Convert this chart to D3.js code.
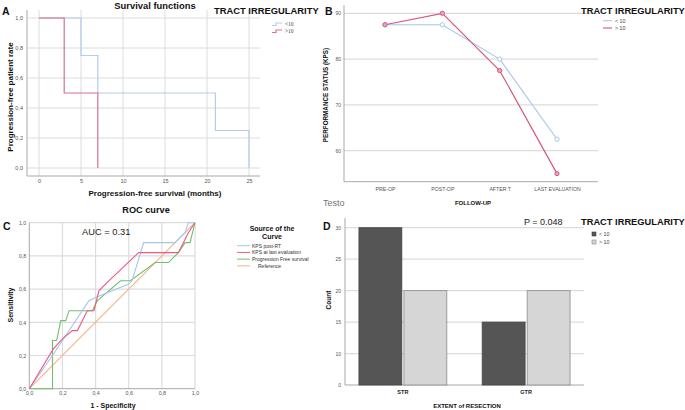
<!DOCTYPE html>
<html><head><meta charset="utf-8">
<script src="https://cdn.jsdelivr.net/npm/d3@7"></script>
<style>
body{margin:0;background:#fff}
svg{display:block;font-family:"Liberation Sans",Arial,sans-serif}
</style>
</head><body>
<svg id="c" width="685" height="410"></svg>
<script>
// ---------- Panel A: Kaplan-Meier ----------
const survMonthsLow = [0, 5, 7, 21, 25];
const survRateLow   = [1.0, 0.75, 0.5, 0.25, 0.0];
const survMonthsHigh = [0, 3, 7];
const survRateHigh   = [1.0, 0.5, 0.0];
const survXTicks = [0, 5, 10, 15, 20, 25];
const survYTicks = [0, 0.2, 0.4, 0.6, 0.8, 1.0];
const groupLabels = ["<10", ">10"];

// ---------- Panel B: KPS follow-up ----------
const kpsCategories = ["PRE-OP", "POST-OP", "AFTER T", "LAST EVALUATION"];
const kpsLow  = [87.5, 87.5, 80, 62.5];
const kpsHigh = [87.5, 90, 77.5, 55];
const kpsYTicks = [60, 70, 80, 90];
const kpsLegend = ["< 10", "> 10"];

// ---------- Panel C: ROC ----------
const rocKpsPostX = [0, 0.14, 0.36, 0.40, 0.50, 0.60, 0.62, 0.69, 0.88, 0.94, 0.96, 1.0];
const rocKpsPostY = [0, 0.20, 0.53, 0.55, 0.59, 0.63, 0.65, 0.88, 0.88, 0.94, 1.0, 1.0];
const rocKpsLastX = [0, 0.145, 0.20, 0.26, 0.29, 0.35, 0.39, 0.42, 0.48, 0.66, 0.90, 0.96, 1.0];
const rocKpsLastY = [0, 0.24, 0.30, 0.35, 0.35, 0.47, 0.47, 0.59, 0.65, 0.82, 0.82, 0.94, 1.0];
const rocPfsX = [0, 0.14, 0.14, 0.165, 0.19, 0.22, 0.24, 0.38, 0.41, 0.55, 0.61, 0.76, 0.84, 0.90, 0.94, 0.97, 1.0];
const rocPfsY = [0, 0, 0.29, 0.29, 0.41, 0.41, 0.47, 0.47, 0.53, 0.65, 0.65, 0.76, 0.76, 0.82, 0.88, 0.88, 1.0];
const rocRefX = [0, 1];
const rocRefY = [0, 1];
const rocTicks = [0, 0.2, 0.4, 0.6, 0.8, 1.0];
const rocLegend = ["KPS post-RT", "KPS at last evaluation", "Progression Free survival", "Reference"];

// ---------- Panel D: bars ----------
const resectionCats = ["STR", "GTR"];
const countLow  = [30, 15];
const countHigh = [20, 20];
const countTicks = [5, 10, 15, 20, 25, 30];
const countTickLabels = ["0", "10", "15", "20", "25", "30"];

const svg = d3.select("#c");
const comma = d => d3.format(".1f")(d).replace(".", ",");
const GRID = "#dcdcdc", AXIS = "#a8a8a8", TICK = "#555";

function styleAxis(g, size) {
  g.select(".domain").remove();
  g.selectAll(".tick line").remove();
  g.selectAll("text").attr("font-size", size).attr("fill", TICK)
    .attr("font-family", '"Liberation Sans",Arial,sans-serif');
}
function txt(x, y, s, opt = {}) {
  const t = svg.append("text").attr("x", x).attr("y", y).text(s)
    .attr("font-size", opt.size || 9).attr("font-weight", opt.bold ? "bold" : "normal")
    .attr("fill", opt.fill || "#111").attr("text-anchor", opt.anchor || "start");
  if (opt.rotate) t.attr("transform", `rotate(-90,${x},${y})`);
  if (opt.family) t.attr("font-family", opt.family);
  return t;
}

// ================= Panel A =================
{
  const L = 27, R = 260, T = 10, B = 176;
  const x = d3.scaleLinear().domain([0, 25]).range([39, 249]);
  const y = d3.scaleLinear().domain([0, 1]).range([168, 18]);
  const g = svg.append("g");
  g.selectAll(".vg").data(survXTicks).join("line")
    .attr("x1", d => x(d)).attr("x2", d => x(d)).attr("y1", T).attr("y2", B)
    .attr("stroke", GRID).attr("stroke-width", 1);
  g.selectAll(".hg").data(survYTicks).join("line")
    .attr("x1", L).attr("x2", R).attr("y1", d => y(d)).attr("y2", d => y(d))
    .attr("stroke", GRID).attr("stroke-width", 1);
  g.append("line").attr("x1", L).attr("x2", L).attr("y1", T).attr("y2", B).attr("stroke", AXIS);
  g.append("line").attr("x1", L).attr("x2", R).attr("y1", B).attr("y2", B).attr("stroke", AXIS);

  const ax = g.append("g").attr("transform", `translate(0,${B})`)
    .call(d3.axisBottom(x).tickValues(survXTicks).tickSize(0).tickPadding(3));
  styleAxis(ax, 5.5);
  const ay = g.append("g").attr("transform", `translate(${L},0)`)
    .call(d3.axisLeft(y).tickValues(survYTicks).tickFormat(comma).tickSize(0).tickPadding(4));
  styleAxis(ay, 5.5);

  const line = d3.line().x(d => x(d[0])).y(d => y(d[1])).curve(d3.curveStepAfter);
  const low = survMonthsLow.map((m, i) => [m, survRateLow[i]]);
  const high = survMonthsHigh.map((m, i) => [m, survRateHigh[i]]);
  const lc = ["#b3cdee", "#d5708c"];
  g.append("path").attr("d", line(low)).attr("fill", "none").attr("stroke", lc[0]).attr("stroke-width", 1.2);
  g.append("path").attr("d", line(high)).attr("fill", "none").attr("stroke", lc[1]).attr("stroke-width", 1.2);

  // legend
  groupLabels.forEach((s, i) => {
    const yy = 24 + i * 7;
    g.append("path").attr("d", `M272,${yy + 1.5}H276V${yy - 1}H282`).attr("fill", "none").attr("stroke", lc[i]).attr("stroke-width", 1.1);
    txt(285, yy + 2, s, { size: 5.5, fill: "#444", family: '"Liberation Serif",serif' });
  });

  txt(155, 9, "Survival functions", { size: 9.4, bold: true, anchor: "middle" });
  txt(214, 14, "TRACT IRREGULARITY", { size: 9.4, bold: true });
  txt(2, 15, "A", { size: 10.5, bold: true });
  txt(155, 196, "Progression-free survival (months)", { size: 8, bold: true, anchor: "middle" });
  txt(13, 97, "Progression-free patient rate", { size: 8, bold: true, anchor: "middle", rotate: true });
}

// ================= Panel B =================
{
  const L = 344, R = 598, T = 5, B = 181.7;
  const x = d3.scalePoint().domain(kpsCategories).range([385, 557]);
  const y = d3.scaleLinear().domain([60, 90]).range([150.7, 13.3]);
  const g = svg.append("g");
  g.selectAll(".hg").data(kpsYTicks).join("line")
    .attr("x1", L).attr("x2", R).attr("y1", d => y(d)).attr("y2", d => y(d))
    .attr("stroke", GRID).attr("stroke-width", 1.3);
  g.append("line").attr("x1", L).attr("x2", L).attr("y1", T).attr("y2", B).attr("stroke", AXIS);
  g.append("line").attr("x1", L).attr("x2", R).attr("y1", B).attr("y2", B).attr("stroke", AXIS);
  const ax = g.append("g").attr("transform", `translate(0,${B})`)
    .call(d3.axisBottom(x).tickSize(0).tickPadding(6));
  styleAxis(ax, 5.2);
  const ay = g.append("g").attr("transform", `translate(${L},0)`)
    .call(d3.axisLeft(y).tickValues(kpsYTicks).tickSize(0).tickPadding(3));
  styleAxis(ay, 5);

  const line = d3.line().x(d => x(d[0])).y(d => y(d[1]));
  const series = [
    { v: kpsLow, c: "#a9c7ee", f: "#ffffff" },
    { v: kpsHigh, c: "#d4587a", f: "#eaa6ba" }
  ];
  series.forEach(s => {
    const pts = kpsCategories.map((k, i) => [k, s.v[i]]);
    g.append("path").attr("d", line(pts)).attr("fill", "none").attr("stroke", s.c).attr("stroke-width", 1.2);
    g.selectAll(null).data(pts).join("circle")
      .attr("cx", d => x(d[0])).attr("cy", d => y(d[1])).attr("r", 2.1)
      .attr("fill", s.f).attr("stroke", s.c).attr("stroke-width", 1);
  });

  txt(581, 14, "TRACT IRREGULARITY", { size: 9.3, bold: true });
  kpsLegend.forEach((s, i) => {
    const yy = 20.7 + i * 7.3;
    g.append("line").attr("x1", 603).attr("x2", 612).attr("y1", yy).attr("y2", yy).attr("stroke", series[i].c).attr("stroke-width", 1.1);
    txt(615, yy + 2, s, { size: 5.3, fill: "#444" });
  });
  txt(325, 15, "B", { size: 10.5, bold: true });
  txt(328, 95, "PERFORMANCE STATUS (KPS)", { size: 6.3, bold: true, anchor: "middle", rotate: true });
  txt(473, 205, "FOLLOW-UP", { size: 6, bold: true, anchor: "middle" });
}

// ================= Panel C =================
{
  const x = d3.scaleLinear().domain([0, 1]).range([29.3, 195]);
  const y = d3.scaleLinear().domain([0, 1]).range([388.7, 222.7]);
  const g = svg.append("g");
  g.selectAll(".vg").data(rocTicks.slice(1)).join("line")
    .attr("x1", d => x(d)).attr("x2", d => x(d)).attr("y1", y(1)).attr("y2", y(0))
    .attr("stroke", GRID).attr("stroke-width", 1.2);
  g.selectAll(".hg").data(rocTicks.slice(1)).join("line")
    .attr("x1", x(0)).attr("x2", x(1)).attr("y1", d => y(d)).attr("y2", d => y(d))
    .attr("stroke", GRID).attr("stroke-width", 1.2);
  g.append("line").attr("x1", x(0)).attr("x2", x(0)).attr("y1", y(1)).attr("y2", y(0)).attr("stroke", AXIS);
  g.append("line").attr("x1", x(0)).attr("x2", x(1)).attr("y1", y(0)).attr("y2", y(0)).attr("stroke", AXIS);
  const ax = g.append("g").attr("transform", `translate(0,${y(0)})`)
    .call(d3.axisBottom(x).tickValues(rocTicks).tickFormat(comma).tickSize(0).tickPadding(3));
  styleAxis(ax, 5.3);
  const ay = g.append("g").attr("transform", `translate(${x(0)},0)`)
    .call(d3.axisLeft(y).tickValues(rocTicks).tickFormat(comma).tickSize(0).tickPadding(3));
  styleAxis(ay, 5.3);

  const line = d3.line().x(d => x(d[0])).y(d => y(d[1]));
  const curves = [
    { xs: rocRefX, ys: rocRefY, c: "#f6b486" },
    { xs: rocPfsX, ys: rocPfsY, c: "#6fc06f" },
    { xs: rocKpsPostX, ys: rocKpsPostY, c: "#a3c6f0" },
    { xs: rocKpsLastX, ys: rocKpsLastY, c: "#ee5a84" }
  ];
  curves.forEach(cv => {
    const pts = cv.xs.map((v, i) => [v, cv.ys[i]]);
    g.append("path").attr("d", line(pts)).attr("fill", "none").attr("stroke", cv.c).attr("stroke-width", 1.1);
  });

  txt(146, 213, "ROC curve", { size: 9.2, bold: true, anchor: "middle" });
  txt(82, 235, "AUC = 0.31", { size: 9.3, fill: "#222" });
  txt(3, 230, "C", { size: 10.5, bold: true });
  txt(113, 408, "1 - Specificity", { size: 7, bold: true, anchor: "middle" });
  txt(13, 305, "Sensitivity", { size: 7, bold: true, anchor: "middle", rotate: true });

  txt(272, 231, "Source of the", { size: 7, bold: true, anchor: "middle" });
  txt(272, 238.5, "Curve", { size: 7, bold: true, anchor: "middle" });
  const lcol = ["#a3c6f0", "#ee5a84", "#6fc06f", "#f6b486"];
  rocLegend.forEach((s, i) => {
    const yy = 245.7 + i * 6.7;
    g.append("line").attr("x1", 237).attr("x2", 250).attr("y1", yy).attr("y2", yy).attr("stroke", lcol[i]).attr("stroke-width", 1);
    txt(i === 3 ? 258 : 252, yy + 1.8, s, { size: 5, fill: "#333" });
  });
}

// ================= Panel D =================
{
  const L = 345, R = 584, T = 218, B = 385;
  const x = d3.scaleBand().domain(resectionCats).range([L, R]).paddingInner(0.287).paddingOuter(0.113);
  const xs = d3.scaleBand().domain(["low", "high"]).range([0, x.bandwidth()]).paddingInner(0.046);
  const y = d3.scaleLinear().domain([5, 30]).range([B, 227.7]);
  const g = svg.append("g");
  g.selectAll(".hg").data(countTicks.slice(1)).join("line")
    .attr("x1", L).attr("x2", R).attr("y1", d => y(d)).attr("y2", d => y(d))
    .attr("stroke", GRID).attr("stroke-width", 1.2);
  g.append("line").attr("x1", L).attr("x2", L).attr("y1", T).attr("y2", B).attr("stroke", AXIS);
  g.append("line").attr("x1", L).attr("x2", R).attr("y1", B).attr("y2", B).attr("stroke", AXIS);

  const bars = [];
  resectionCats.forEach((c, i) => {
    bars.push({ c, k: "low", v: countLow[i] });
    bars.push({ c, k: "high", v: countHigh[i] });
  });
  g.selectAll(".bar").data(bars).join("rect")
    .attr("x", d => x(d.c) + xs(d.k)).attr("width", xs.bandwidth())
    .attr("y", d => y(d.v)).attr("height", d => y(5) - y(d.v))
    .attr("fill", d => d.k === "low" ? "#555555" : "#d6d6d6")
    .attr("stroke", d => d.k === "low" ? "#444" : "#8a8a8a").attr("stroke-width", 0.8);

  const ax = g.append("g").attr("transform", `translate(0,${B})`)
    .call(d3.axisBottom(x).tickSize(0).tickPadding(5));
  styleAxis(ax, 5.5);
  ax.selectAll("text").attr("font-weight", "bold").attr("fill", "#222");
  const ay = g.append("g").attr("transform", `translate(${L},0)`)
    .call(d3.axisLeft(y).tickValues(countTicks).tickFormat((d, i) => countTickLabels[i]).tickSize(0).tickPadding(4));
  styleAxis(ay, 5);

  txt(524, 225, "P = 0.048", { size: 9, fill: "#222" });
  txt(581, 225, "TRACT IRREGULARITY", { size: 9.3, bold: true });
  const sq = [["#555555", "#444"], ["#d6d6d6", "#8a8a8a"]];
  kpsLegend.forEach((s, i) => {
    const yy = 232 + i * 8;
    g.append("rect").attr("x", 592).attr("y", yy).attr("width", 4).attr("height", 4)
      .attr("fill", sq[i][0]).attr("stroke", sq[i][1]).attr("stroke-width", 0.6);
    txt(599, yy + 4, s, { size: 5.3, fill: "#444" });
  });
  txt(323, 230, "D", { size: 10.5, bold: true });
  txt(323, 206, "Testo", { size: 9, fill: "#777" });
  txt(331, 300, "Count", { size: 6.5, bold: true, anchor: "middle", rotate: true });
  txt(467, 408, "EXTENT of RESECTION", { size: 6, bold: true, anchor: "middle" });
}
</script>
</body></html>
